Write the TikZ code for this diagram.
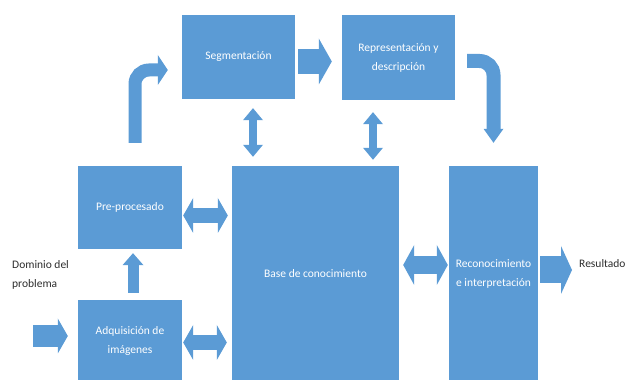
\documentclass[tikz,border=0pt]{standalone}
\usepackage{fontspec}
\setmainfont{Carlito}
\usepackage{tikz}
\usetikzlibrary{arrows.meta}
\definecolor{boxblue}{RGB}{91,155,213}
\definecolor{textgray}{RGB}{45,45,45}

\begin{document}
\begin{tikzpicture}[x=1pt, y=1pt,
    box/.style={fill=boxblue, text=white, align=center, font=\fontsize{11.5}{19}\selectfont, inner sep=0pt},
    label/.style={text=textgray, align=left, font=\fontsize{11.5}{19}\selectfont, anchor=west, inner sep=0pt},
    flecha/.style n args={3}{draw=boxblue, line width=#1, -{Triangle[width=#2, length=#3, line width=0pt]}},
    doble/.style n args={3}{draw=boxblue, line width=#1, {Triangle[width=#2, length=#3, line width=0pt]}-{Triangle[width=#2, length=#3, line width=0pt]}}]
    \useasboundingbox (0, 0) rectangle (625, 380);

    %Nodes
    \node[box, minimum width=113, minimum height=84] at (238.5, 323) (seg) {Segmentación};
    \node[box, minimum width=113, minimum height=85] at (398.5, 322.5) (rep) {Representación y\\descripción};
    \node[box, minimum width=104, minimum height=83] at (130, 172.5) (pre) {Pre-procesado};
    \node[box, minimum width=104, minimum height=82] at (130, 39) (adq) {Adquisición de\\imágenes};
    \node[box, minimum width=167, minimum height=216] at (315.5, 106) (base) {Base de conocimiento};
    \node[box, minimum width=89, minimum height=216] at (493.5, 106) (rec) {Reconocimiento\\e interpretación};
    \node[label] at (12, 105) (dominio) {Dominio del\\problema};
    \node[label] at (579, 116) (resultado) {Resultado};
    \coordinate (entrada) at (33, 44);

    %Lines
    \draw[flecha={13}{30}{10}, rounded corners=14, shorten <=23, shorten >=14] ([xshift=5]pre.north) |- ([yshift=-13]seg.west);
    \draw[flecha={25}{46}{13}, shorten <=3, shorten >=10] ([yshift=-4.5]seg.east) -- ([yshift=-4.5]seg.east -| rep.west);
    \draw[flecha={14}{20}{14}, rounded corners=14, shorten <=12, shorten >=23] ([yshift=-3.5]rep.east) -| (rec.north);
    \draw[doble={8}{20}{12}, shorten <=9, shorten >=9] ([xshift=14.5]seg.south) -- ([xshift=14.5]seg.south |- base.north);
    \draw[doble={8}{20}{12}, shorten <=12, shorten >=6] ([xshift=-25.5]rep.south) -- ([xshift=-25.5]rep.south |- base.north);
    \draw[doble={15}{35}{10}, shorten <=1, shorten >=4] ([yshift=-8]pre.east) -- ([yshift=-8]pre.east -| base.west);
    \draw[doble={15}{35}{10}, shorten <=1, shorten >=5] ([yshift=-1.5]adq.east) -- ([yshift=-1.5]adq.east -| base.west);
    \draw[doble={18}{40}{11}, shorten <=4, shorten >=1] ([yshift=9]base.east) -- ([yshift=9]base.east -| rec.west);
    \draw[flecha={11}{21}{12}, shorten <=7, shorten >=4] ([xshift=3]adq.north) -- ([xshift=3]adq.north |- pre.south);
    \draw[flecha={22}{35}{10}, shorten >=10] (entrada) -- (entrada -| adq.west);
    \draw[flecha={27}{48}{11}, shorten <=2, shorten >=7] ([yshift=4]rec.east) -- ([yshift=4]rec.east -| resultado.west);

\end{tikzpicture}
\end{document}
